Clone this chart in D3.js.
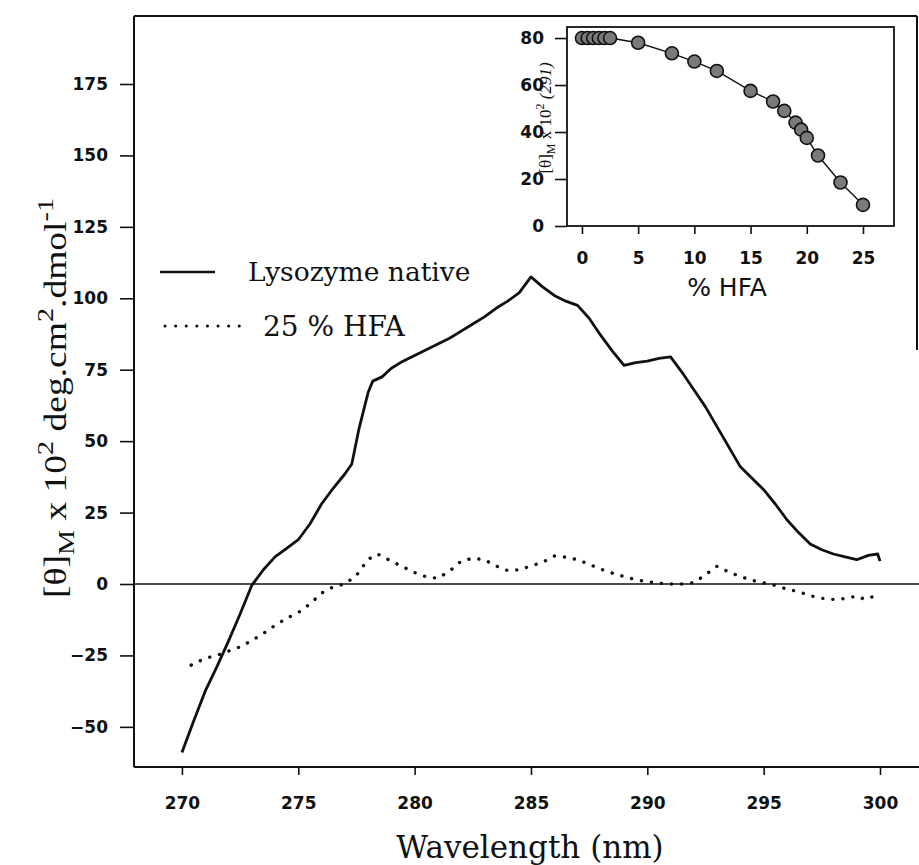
<!DOCTYPE html>
<html>
<head>
<meta charset="utf-8">
<script src="https://cdn.jsdelivr.net/npm/d3@7"></script>
<style>
body { margin: 0; background: #fff; }
svg { display: block; }
</style>
</head>
<body>
<div id="chart"></div>
<script>
// CD spectrum, lysozyme native (solid)
var wavelength = [270, 270.5, 271, 271.5, 272, 272.5, 273, 273.5, 274, 274.5, 275, 275.5, 276, 276.5, 277, 277.3, 277.6,
	278, 278.2, 278.6, 279, 279.5, 280, 280.5, 281, 281.5, 282, 282.5, 283, 283.5, 284, 284.5, 285, 285.5, 286, 286.5,
	287, 287.5, 288, 288.5, 289, 289.5, 290, 290.5, 291, 291.5, 292, 292.5, 293, 293.5, 294, 294.5, 295, 295.5, 296,
	296.5, 297, 297.5, 298, 298.5, 299, 299.5, 299.9, 300];
var nativeTheta = [-59, -48, -37.5, -29, -20, -10.5, -0.5, 5, 9.5, 12.5, 15.5, 21, 28, 33.5, 38.5, 42, 54,
	67, 71, 72.5, 75.5, 78, 80, 82, 84, 86, 88.5, 91, 93.5, 96.5, 99, 102, 107.5, 104, 101, 99,
	97.5, 93, 87, 81.5, 76.5, 77.5, 78, 79, 79.5, 74, 68, 62, 55, 48, 41, 37, 33, 28, 22.5,
	18, 14, 12, 10.5, 9.5, 8.5, 10, 10.5, 8];

// CD spectrum, 25 % HFA (dotted)
var hfaWavelength = [270.4, 271, 271.5, 272, 272.5, 273, 273.5, 274, 274.5, 275, 275.5, 276, 276.5, 277, 277.5, 278, 278.4,
	279, 279.5, 280, 280.5, 281, 281.5, 282, 282.5, 283, 283.5, 284, 284.5, 285, 285.5, 286, 286.5, 287, 287.5, 288,
	288.5, 289, 289.5, 290, 290.5, 291, 291.5, 292, 292.5, 293, 293.5, 294, 294.5, 295, 295.5, 296, 296.5, 297, 297.5,
	298, 298.5, 299, 299.35, 299.85];
var hfaTheta = [-28.4, -26, -25, -23.5, -22, -19.8, -17.3, -14.5, -12, -10, -7, -3.2, -1, 0, 3, 8.6, 10.5,
	8, 6, 4, 2.5, 2, 4.5, 8, 9, 8.5, 6.3, 4.7, 5, 6.3, 7.6, 9.8, 9.4, 8.5, 6.9, 5.2,
	3.8, 2.6, 1.5, 0.8, 0.3, 0, 0, 0.5, 3.2, 6.2, 4.2, 2.6, 1.3, 0.4, -0.5, -1.8, -2.7, -4.1, -5,
	-5.4, -5.1, -4.2, -5.4, -4];

// inset: ellipticity at 291 nm vs % HFA
var hfaPercent = [0, 0.5, 1, 1.5, 2, 2.5, 5, 8, 10, 12, 15, 17, 18, 19, 19.5, 20, 21, 23, 25];
var theta291 = [80, 80, 80, 80, 80, 80, 78, 73.5, 70, 66, 57.5, 53, 49, 44, 41, 37.5, 30, 18.5, 9];

var yTicks = [-50, -25, 0, 25, 50, 75, 100, 125, 150, 175];
var xTicks = [270, 275, 280, 285, 290, 295, 300];
var insetXTicks = [0, 5, 10, 15, 20, 25];
var insetYTicks = [0, 20, 40, 60, 80];

var svg = d3.select('#chart').append('svg')
	.attr('width', 919)
	.attr('height', 865);

var pLeft = 134, pRight = 917, pTop = 16, pBottom = 767;
var x = d3.scaleLinear().domain([267.94, 301.59]).range([pLeft, pRight]);
var y = d3.scaleLinear().domain([-64.05, 198.8]).range([pBottom, pTop]);

var tickFont = g => g.selectAll('text')
	.attr('font-family', 'DejaVu Sans')
	.attr('font-weight', 'bold')
	.attr('font-size', 17)
	.attr('fill', '#111');
var tickLines = g => {
	g.select('.domain').remove();
	g.selectAll('line').attr('stroke', '#111').attr('stroke-width', 1.6);
};

// frame
var frame = svg.append('g').attr('stroke', '#111').attr('stroke-width', 2).attr('fill', 'none');
frame.append('line').attr('x1', pLeft).attr('x2', pLeft).attr('y1', pTop).attr('y2', pBottom);
frame.append('line').attr('x1', pLeft).attr('x2', 919).attr('y1', pBottom).attr('y2', pBottom);
frame.append('line').attr('x1', pLeft).attr('x2', pRight).attr('y1', pTop).attr('y2', pTop);
frame.append('line').attr('x1', pRight).attr('x2', pRight).attr('y1', pTop).attr('y2', 350);
// zero line
frame.append('line').attr('x1', pLeft).attr('x2', 919).attr('y1', y(0)).attr('y2', y(0)).attr('stroke-width', 1.6);

svg.append('g')
	.attr('transform', 'translate(' + pLeft + ',0)')
	.call(d3.axisLeft(y).tickValues(yTicks).tickSize(14).tickPadding(12))
	.call(tickLines)
	.call(tickFont);

svg.append('g')
	.attr('transform', 'translate(0,' + pBottom + ')')
	.call(d3.axisBottom(x).tickValues(xTicks).tickSize(8).tickPadding(22))
	.call(tickLines)
	.call(tickFont);

var line = d3.line().x(d => x(d[0])).y(d => y(d[1]));

svg.append('path')
	.datum(d3.zip(wavelength, nativeTheta))
	.attr('d', line)
	.attr('fill', 'none')
	.attr('stroke', '#111')
	.attr('stroke-width', 2.8)
	.attr('stroke-linejoin', 'round');

svg.append('path')
	.datum(d3.zip(hfaWavelength, hfaTheta))
	.attr('d', line)
	.attr('fill', 'none')
	.attr('stroke', '#111')
	.attr('stroke-width', 3.4)
	.attr('stroke-linecap', 'round')
	.attr('stroke-dasharray', '0.1,10');

// legend
var legend = svg.append('g');
legend.append('line').attr('x1', 160).attr('x2', 215).attr('y1', 272).attr('y2', 272)
	.attr('stroke', '#111').attr('stroke-width', 2.4);
legend.append('line').attr('x1', 165).attr('x2', 240).attr('y1', 326).attr('y2', 326)
	.attr('stroke', '#111').attr('stroke-width', 3).attr('stroke-linecap', 'round')
	.attr('stroke-dasharray', '0.1,10.5');
legend.append('text').attr('x', 248).attr('y', 281)
	.attr('font-family', 'DejaVu Serif').attr('font-size', 26.5).attr('fill', '#111')
	.text('Lysozyme native');
legend.append('text').attr('x', 263).attr('y', 336)
	.attr('font-family', 'DejaVu Serif').attr('font-size', 28).attr('fill', '#111')
	.text('25 % HFA');

// axis titles
svg.append('text')
	.attr('x', 530).attr('y', 858)
	.attr('text-anchor', 'middle')
	.attr('font-family', 'DejaVu Serif').attr('font-size', 31).attr('fill', '#111')
	.text('Wavelength (nm)');

var yTitle = svg.append('text')
	.attr('transform', 'translate(66,398) rotate(-90)')
	.attr('text-anchor', 'middle')
	.attr('textLength', 400)
	.attr('lengthAdjust', 'spacingAndGlyphs')
	.attr('font-family', 'Liberation Serif').attr('font-size', 32).attr('fill', '#111');
yTitle.append('tspan').text('[θ]');
yTitle.append('tspan').attr('dy', 8).attr('font-size', 24).text('M');
yTitle.append('tspan').attr('dy', -8).text(' x 10');
yTitle.append('tspan').attr('dy', -13).attr('font-size', 24).text('2');
yTitle.append('tspan').attr('dy', 13).text(' deg.cm');
yTitle.append('tspan').attr('dy', -13).attr('font-size', 24).text('2');
yTitle.append('tspan').attr('dy', 13).text('.dmol');
yTitle.append('tspan').attr('dy', -13).attr('font-size', 24).text('-1');

// inset
var iLeft = 567, iRight = 894, iTop = 27, iBottom = 226;
var ix = d3.scaleLinear().domain([-1.33, 27.76]).range([iLeft, iRight]);
var iy = d3.scaleLinear().domain([0, 84.7]).range([iBottom, iTop]);
var inset = svg.append('g');

inset.append('rect')
	.attr('x', iLeft).attr('y', iTop)
	.attr('width', iRight - iLeft).attr('height', iBottom - iTop)
	.attr('fill', '#fff').attr('stroke', '#111').attr('stroke-width', 1.8);

inset.append('g')
	.attr('transform', 'translate(' + iLeft + ',0)')
	.call(d3.axisLeft(iy).tickValues(insetYTicks).tickSize(12).tickPadding(11))
	.call(tickLines)
	.call(tickFont);

inset.append('g')
	.attr('transform', 'translate(0,' + iBottom + ')')
	.call(d3.axisBottom(ix).tickValues(insetXTicks).tickSize(8).tickPadding(18))
	.call(tickLines)
	.call(tickFont);

var iLine = d3.line().x(d => ix(d[0])).y(d => iy(d[1]));
var insetData = d3.zip(hfaPercent, theta291);
inset.append('path')
	.datum(insetData)
	.attr('d', iLine)
	.attr('fill', 'none')
	.attr('stroke', '#111')
	.attr('stroke-width', 1.4);
inset.selectAll('circle')
	.data(insetData)
	.enter()
	.append('circle')
	.attr('cx', d => ix(d[0]))
	.attr('cy', d => iy(d[1]))
	.attr('r', 6.5)
	.attr('fill', '#7a7a7a')
	.attr('stroke', '#111')
	.attr('stroke-width', 1.6);

inset.append('text')
	.attr('x', 727).attr('y', 296)
	.attr('text-anchor', 'middle')
	.attr('font-family', 'DejaVu Sans').attr('font-size', 25).attr('fill', '#111')
	.text('% HFA');

var iTitle = inset.append('text')
	.attr('transform', 'translate(551,118) rotate(-90)')
	.attr('text-anchor', 'middle')
	.attr('font-family', 'Liberation Serif').attr('font-size', 17).attr('fill', '#111');
iTitle.append('tspan').text('[θ]');
iTitle.append('tspan').attr('dy', 4).attr('font-size', 12).text('M');
iTitle.append('tspan').attr('dy', -4).text(' x 10');
iTitle.append('tspan').attr('dy', -7).attr('font-size', 12).text('2');
iTitle.append('tspan').attr('dy', 7).attr('font-style', 'italic').text(' (291)');
</script>
</body>
</html>
